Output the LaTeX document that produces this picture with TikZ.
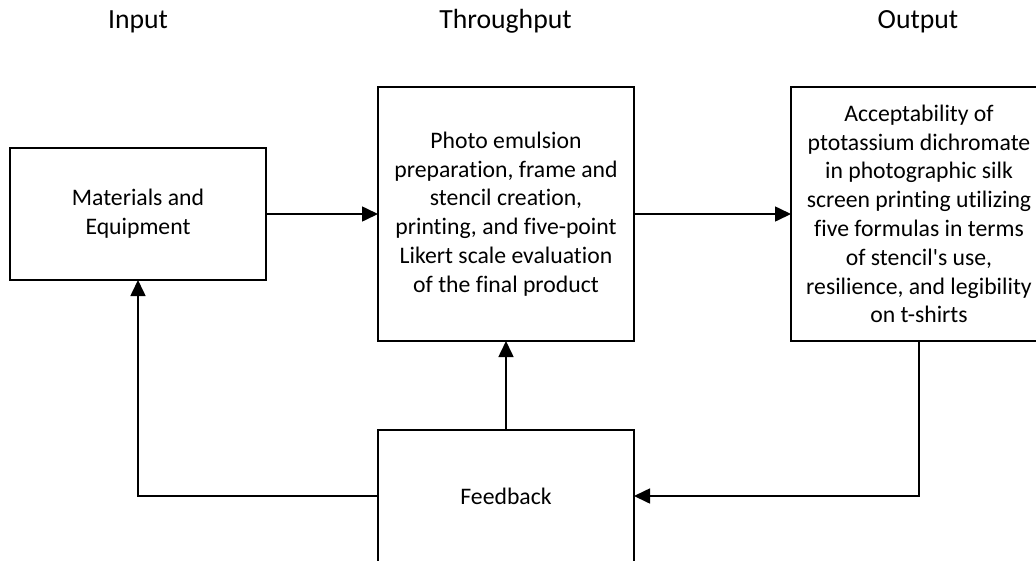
\documentclass[tikz,border=0pt]{standalone}
\usepackage{fontspec}
\setmainfont{Carlito}[Ligatures={TeXOff,CommonOff}]
\usetikzlibrary{arrows.meta,positioning}
\tikzset{
  flowbox/.style={
    draw=black,
    line width=1.6pt,
    outer sep=0pt,
    inner sep=0pt,
    minimum width=256pt,
    align=center,
    font=\fontsize{23.7}{28.8}\selectfont
  },
  headlabel/.style={
    anchor=base,
    inner sep=0pt,
    font=\fontsize{27.7}{33}\selectfont
  },
  flowarrow/.style={-{Triangle[length=16pt,width=15pt]},line width=1.6pt,draw=black}
}

\begin{document}
\begin{tikzpicture}[x=1pt,y=-1pt]
\useasboundingbox (0,0) rectangle (1036,560);
\clip (0,0) rectangle (1036,560);
\node[flowbox,minimum height=132pt] (mat) at (138,214) {Materials and\\Equipment};
\node[flowbox,minimum height=254pt,right=112pt of mat] (thru) {Photo emulsion\\preparation, frame and\\stencil creation,\\printing, and five-point\\Likert scale evaluation\\of the final product};
\node[flowbox,minimum height=254pt,right=157pt of thru] (out) {Acceptability of\\ptotassium dichromate\\in photographic silk\\screen printing utilizing\\five formulas in terms\\of stencil's use,\\resilience, and legibility\\on t-shirts};
\node[flowbox,minimum height=132pt,below=89pt of thru] (fb) {Feedback};
\node[headlabel] (inhead) at (138,28.5) {Input};
\node[headlabel] (thruhead) at (505.5,28.5) {Throughput};
\node[headlabel] (outhead) at (918,28.5) {Output};
\draw[flowarrow] (mat.east) -- (thru.west);
\draw[flowarrow] (thru.east) -- (out.west);
\draw[flowarrow] (fb.north) -- (thru.south);
\draw[flowarrow] (out.south) |- (fb.east);
\draw[flowarrow] (fb.west) -| (mat.south);
\end{tikzpicture}
\end{document}
